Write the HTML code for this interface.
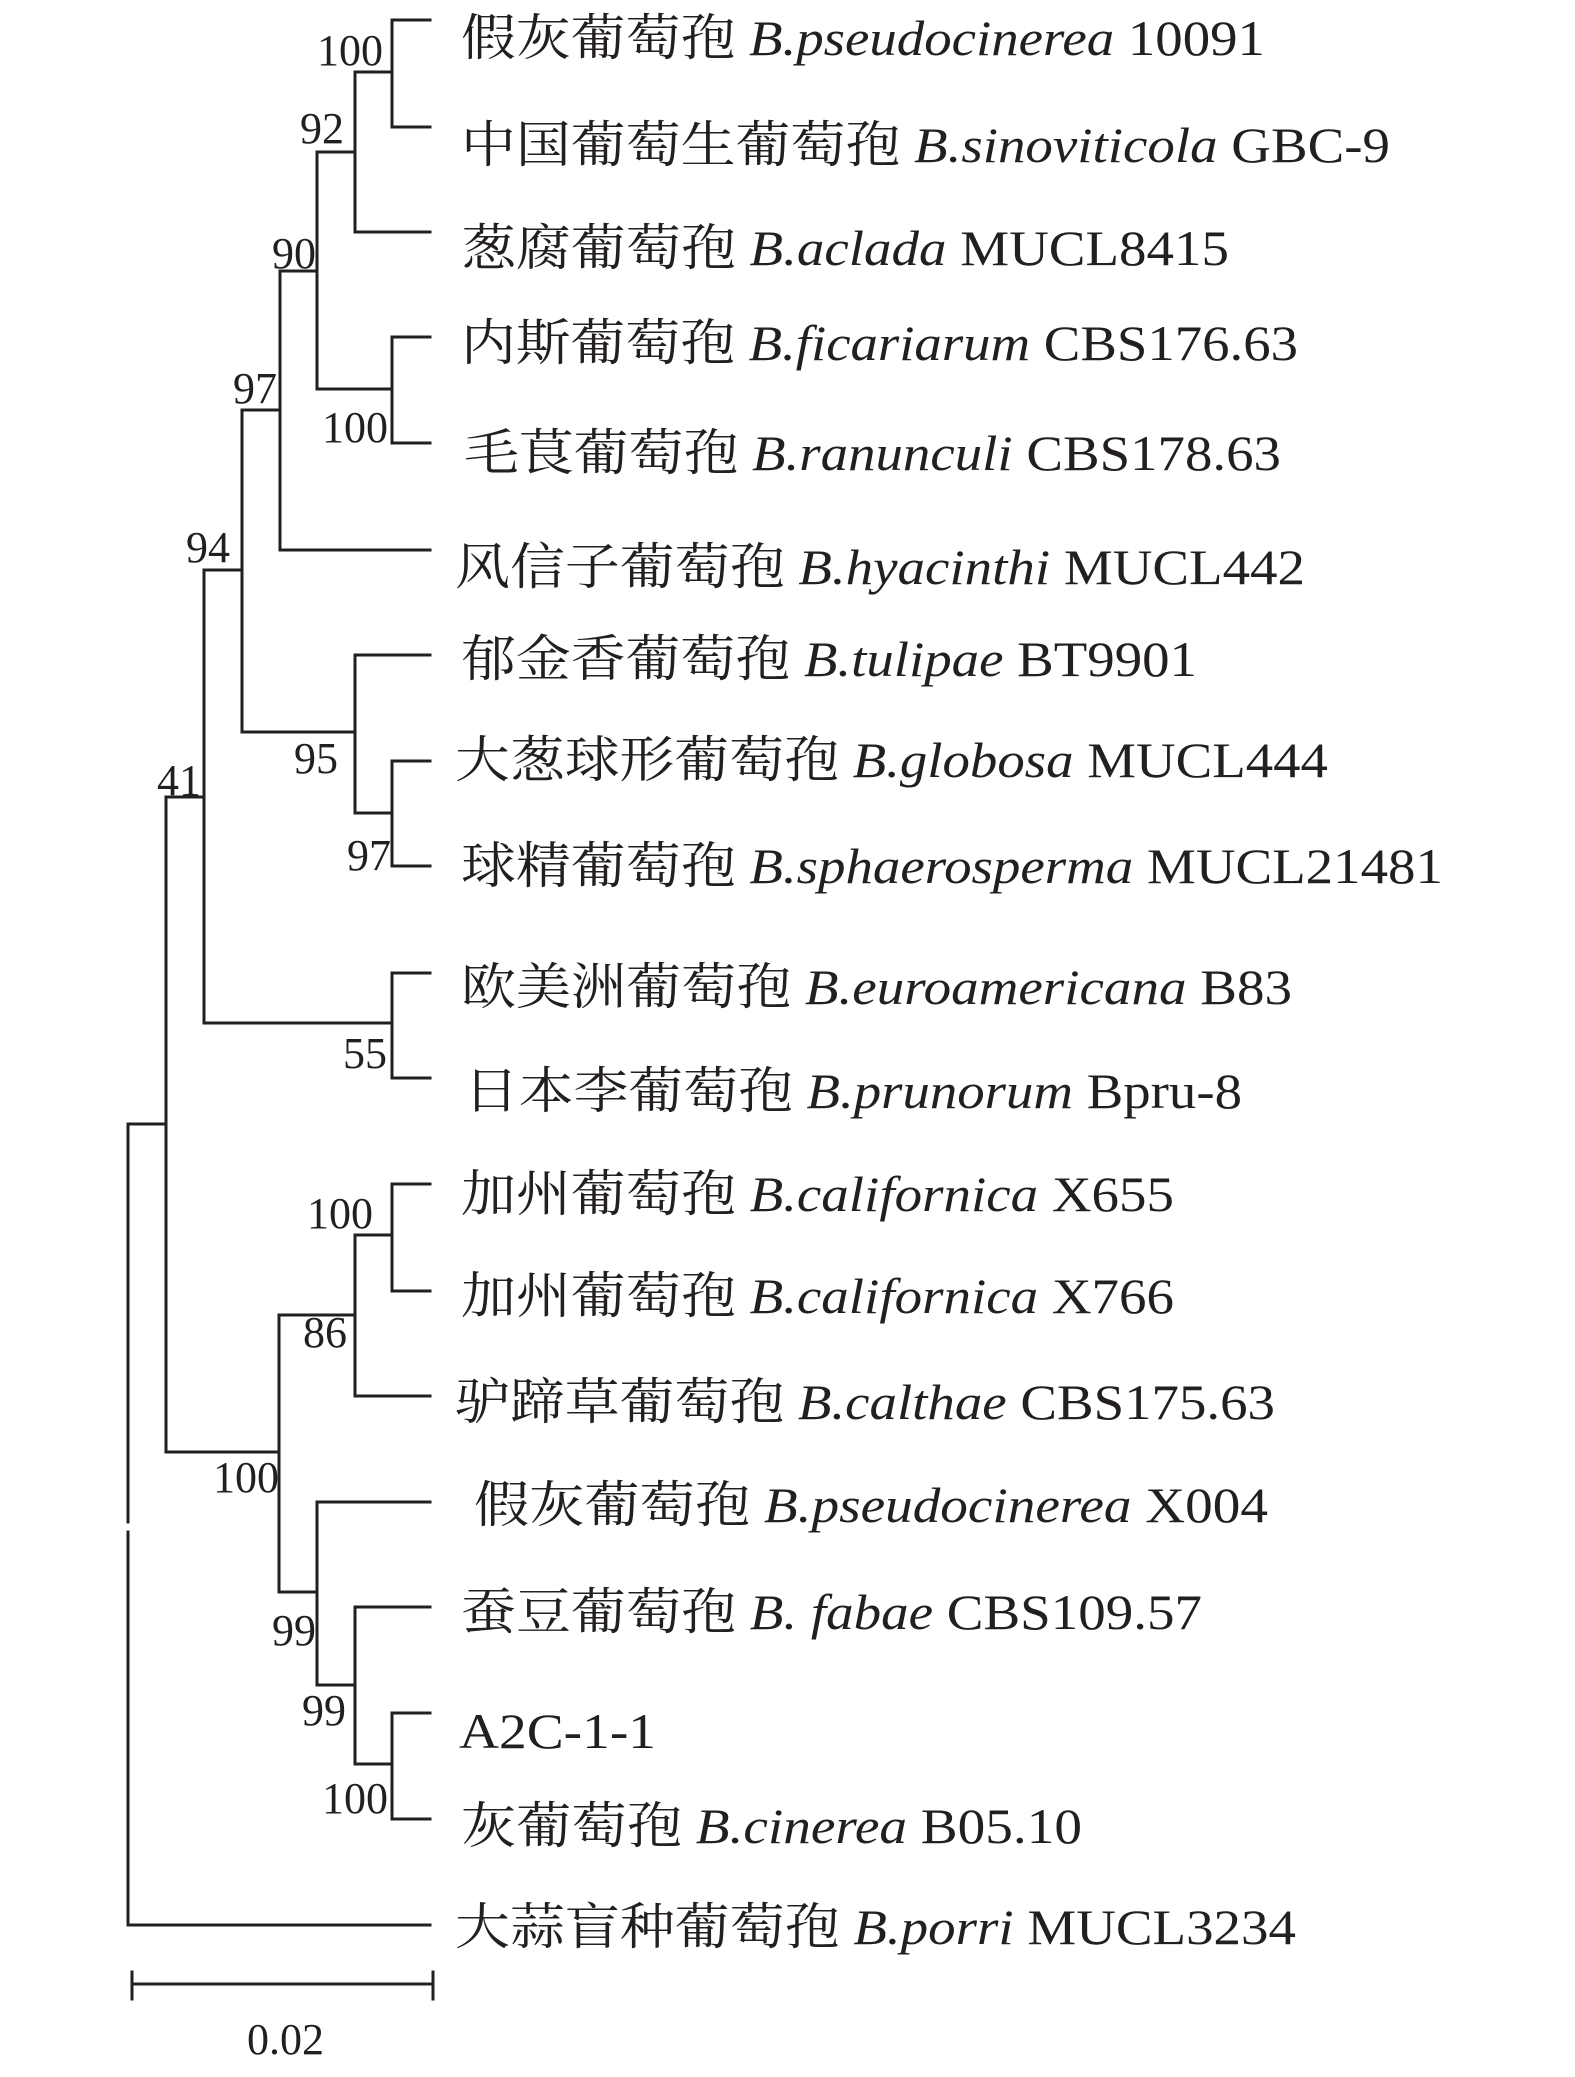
<!DOCTYPE html>
<html><head><meta charset="utf-8"><style>
html,body{margin:0;padding:0;background:#fff;}
svg{display:block;}
text{fill:#231f20;}
.l{font-family:"Liberation Serif","Noto Serif CJK SC","Noto Sans CJK SC",serif;font-size:50px;}
.b{font-family:"Liberation Serif",serif;font-size:44px;}
.i{font-style:italic;}
</style></head><body>
<svg width="1575" height="2077" viewBox="0 0 1575 2077" xmlns="http://www.w3.org/2000/svg">
<g stroke="#231f20" stroke-width="3" fill="none" stroke-linecap="square">
<path d="M392,20V127M392,20H430M392,127H430M355,72H392"/>
<path d="M355,72V232M355,232H430M317,152H355"/>
<path d="M392,337V443M392,337H430M392,443H430M317,389H392"/>
<path d="M317,152V389M280,271H317"/>
<path d="M280,271V550M280,550H430M242,410H280"/>
<path d="M392,761V866M392,761H430M392,866H430M355,813H392"/>
<path d="M355,655V813M355,655H430M242,732H355"/>
<path d="M242,410V732M204,570H242"/>
<path d="M392,973V1078M392,973H430M392,1078H430M204,1023H392"/>
<path d="M204,570V1023M166,797H204"/>
<path d="M392,1184V1291M392,1184H430M392,1291H430M355,1235H392"/>
<path d="M355,1235V1396M355,1396H430M279,1315H355"/>
<path d="M392,1713V1819M392,1713H430M392,1819H430M355,1764H392"/>
<path d="M355,1607V1764M355,1607H430M317,1685H355"/>
<path d="M317,1502V1685M317,1502H430M279,1592H317"/>
<path d="M279,1315V1592M166,1452H279"/>
<path d="M166,797V1452M128,1124H166"/>
<path d="M128,1124V1522M128,1532V1925M128,1925H430"/>
<path d="M132,1984H433M132,1972V1999M433,1972V1999"/>
</g>
<g class="b">
<text x="317" y="65">100</text>
<text x="300" y="143">92</text>
<text x="272" y="268">90</text>
<text x="233" y="403">97</text>
<text x="322" y="442">100</text>
<text x="186" y="562">94</text>
<text x="294" y="773">95</text>
<text x="347" y="870">97</text>
<text x="157" y="795">41</text>
<text x="343" y="1068">55</text>
<text x="307" y="1228">100</text>
<text x="303" y="1347">86</text>
<text x="213" y="1492">100</text>
<text x="272" y="1645">99</text>
<text x="302" y="1725">99</text>
<text x="322" y="1813">100</text>
<text x="247" y="2054">0.02</text>
</g>
<g class="l">
<text x="461" y="55" textLength="804" lengthAdjust="spacingAndGlyphs">假灰葡萄孢 <tspan class="i">B.pseudocinerea</tspan> 10091</text>
<text x="461" y="162" textLength="929" lengthAdjust="spacingAndGlyphs">中国葡萄生葡萄孢 <tspan class="i">B.sinoviticola</tspan> GBC-9</text>
<text x="461" y="265" textLength="768" lengthAdjust="spacingAndGlyphs">葱腐葡萄孢 <tspan class="i">B.aclada</tspan> MUCL8415</text>
<text x="461" y="360" textLength="837" lengthAdjust="spacingAndGlyphs">内斯葡萄孢 <tspan class="i">B.ficariarum</tspan> CBS176.63</text>
<text x="464" y="470" textLength="817" lengthAdjust="spacingAndGlyphs">毛茛葡萄孢 <tspan class="i">B.ranunculi</tspan> CBS178.63</text>
<text x="455" y="584" textLength="850" lengthAdjust="spacingAndGlyphs">风信子葡萄孢 <tspan class="i">B.hyacinthi</tspan> MUCL442</text>
<text x="461" y="676" textLength="736" lengthAdjust="spacingAndGlyphs">郁金香葡萄孢 <tspan class="i">B.tulipae</tspan> BT9901</text>
<text x="455" y="777" textLength="873" lengthAdjust="spacingAndGlyphs">大葱球形葡萄孢 <tspan class="i">B.globosa</tspan> MUCL444</text>
<text x="461" y="883" textLength="982" lengthAdjust="spacingAndGlyphs">球精葡萄孢 <tspan class="i">B.sphaerosperma</tspan> MUCL21481</text>
<text x="461" y="1004" textLength="831" lengthAdjust="spacingAndGlyphs">欧美洲葡萄孢 <tspan class="i">B.euroamericana</tspan> B83</text>
<text x="464" y="1108" textLength="778" lengthAdjust="spacingAndGlyphs">日本李葡萄孢 <tspan class="i">B.prunorum</tspan> Bpru-8</text>
<text x="461" y="1211" textLength="713" lengthAdjust="spacingAndGlyphs">加州葡萄孢 <tspan class="i">B.californica</tspan> X655</text>
<text x="461" y="1313" textLength="713" lengthAdjust="spacingAndGlyphs">加州葡萄孢 <tspan class="i">B.californica</tspan> X766</text>
<text x="455" y="1419" textLength="820" lengthAdjust="spacingAndGlyphs">驴蹄草葡萄孢 <tspan class="i">B.calthae</tspan> CBS175.63</text>
<text x="474" y="1522" textLength="794" lengthAdjust="spacingAndGlyphs">假灰葡萄孢 <tspan class="i">B.pseudocinerea</tspan> X004</text>
<text x="461" y="1629" textLength="741" lengthAdjust="spacingAndGlyphs">蚕豆葡萄孢 <tspan class="i">B. fabae</tspan> CBS109.57</text>
<text x="459" y="1748" textLength="197" lengthAdjust="spacingAndGlyphs">A2C-1-1</text>
<text x="461" y="1843" textLength="621" lengthAdjust="spacingAndGlyphs">灰葡萄孢 <tspan class="i">B.cinerea</tspan> B05.10</text>
<text x="455" y="1944" textLength="841" lengthAdjust="spacingAndGlyphs">大蒜盲种葡萄孢 <tspan class="i">B.porri</tspan> MUCL3234</text>
</g>
</svg>
</body></html>
